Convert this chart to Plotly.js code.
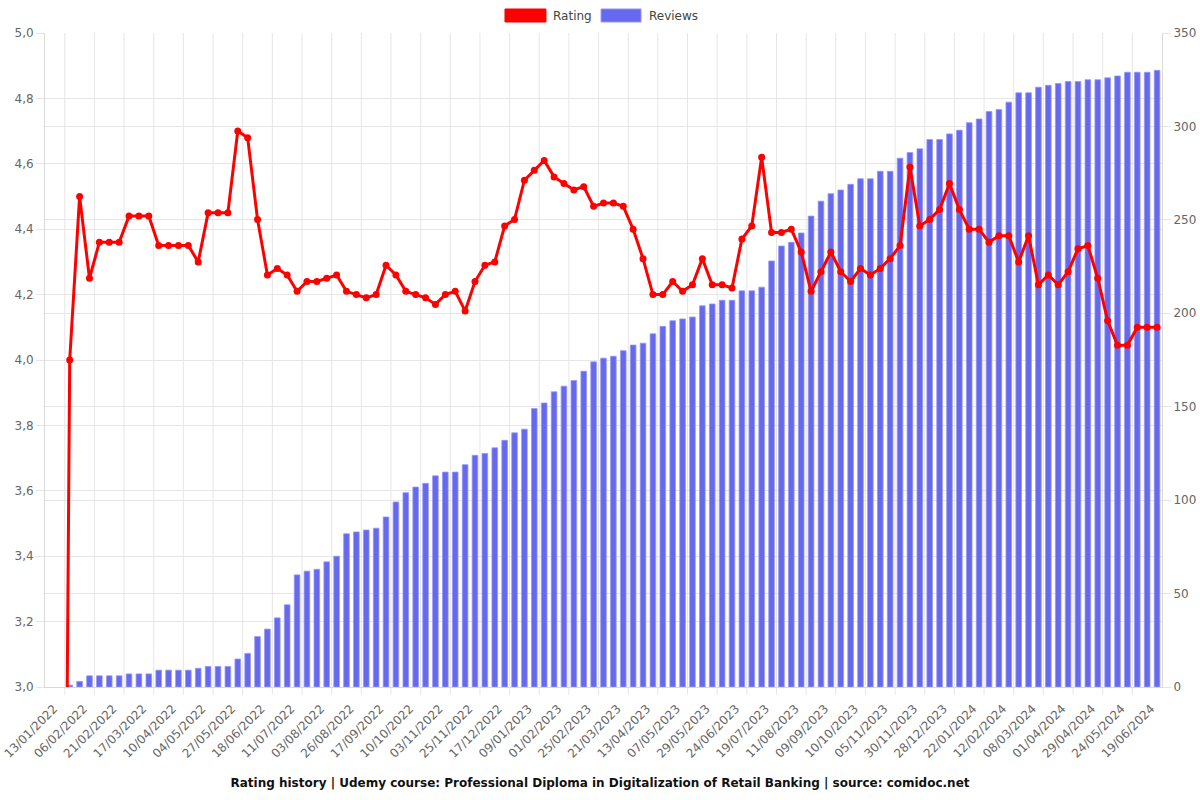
<!DOCTYPE html>
<html>
<head>
<meta charset="utf-8">
<script src="https://cdn.plot.ly/plotly-3.0.1.min.js"></script>
<style>
  html, body { margin: 0; padding: 0; background: #fff; }
  #chart { width: 1200px; height: 800px; }
</style>
</head>
<body>
<div id="chart"></div>
<script>
// Tick labels shown every third category
const tickLabels = ["13/01/2022","06/02/2022","21/02/2022","17/03/2022","10/04/2022","04/05/2022","27/05/2022","18/06/2022","11/07/2022","03/08/2022","26/08/2022","17/09/2022","10/10/2022","03/11/2022","25/11/2022","17/12/2022","09/01/2023","01/02/2023","25/02/2023","21/03/2023","13/04/2023","07/05/2023","29/05/2023","24/06/2023","19/07/2023","11/08/2023","09/09/2023","10/10/2023","05/11/2023","30/11/2023","28/12/2023","22/01/2024","12/02/2024","08/03/2024","01/04/2024","29/04/2024","24/05/2024","19/06/2024"];
const labelStep = 3;

// Average rating per snapshot
const rating = [
  0, 0, 4.0, 4.5, 4.25, 4.36, 4.36, 4.36, 4.44, 4.44,
  4.44, 4.35, 4.35, 4.35, 4.35, 4.30, 4.45, 4.45, 4.45, 4.70,
  4.68, 4.43, 4.26, 4.28, 4.26, 4.21, 4.24, 4.24, 4.25, 4.26,
  4.21, 4.20, 4.19, 4.20, 4.29, 4.26, 4.21, 4.20, 4.19, 4.17,
  4.20, 4.21, 4.15, 4.24, 4.29, 4.30, 4.41, 4.43, 4.55, 4.58,
  4.61, 4.56, 4.54, 4.52, 4.53, 4.47, 4.48, 4.48, 4.47, 4.40,
  4.31, 4.20, 4.20, 4.24, 4.21, 4.23, 4.31, 4.23, 4.23, 4.22,
  4.37, 4.41, 4.62, 4.39, 4.39, 4.40, 4.33, 4.21, 4.27, 4.33,
  4.27, 4.24, 4.28, 4.26, 4.28, 4.31, 4.35, 4.59, 4.41, 4.43,
  4.46, 4.54, 4.46, 4.40, 4.40, 4.36, 4.38, 4.38, 4.30, 4.38,
  4.23, 4.26, 4.23, 4.27, 4.34, 4.35, 4.25, 4.12, 4.045, 4.045,
  4.10, 4.10, 4.10
];

// Cumulative number of reviews per snapshot
const reviews = [
  0, 0, 1, 3, 6, 6, 6, 6, 7, 7,
  7, 9, 9, 9, 9, 10, 11, 11, 11, 15,
  18, 27, 31, 37, 44, 60, 62, 63, 67, 70,
  82, 83, 84, 85, 91, 99, 104, 107, 109, 113,
  115, 115, 119, 124, 125, 128, 132, 136, 138, 149,
  152, 158, 161, 164, 169, 174, 176, 177, 180, 183,
  184, 189, 193, 196, 197, 198, 204, 205, 207, 207,
  212, 212, 214, 228, 236, 238, 243, 252, 260, 264,
  266, 269, 272, 272, 276, 276, 283, 286, 288, 293,
  293, 296, 298, 302, 304, 308, 309, 313, 318, 318,
  321, 322, 323, 324, 324, 325, 325, 326, 327, 329,
  329, 329, 330
];

const idx = reviews.map((_, i) => i);
const tickPos = tickLabels.map((_, k) => k * labelStep);
const n = reviews.length;

const FONT = "DejaVu Sans, Verdana, sans-serif";
const GRID = "#e6e6e6";
const RED = "rgb(255,0,0)";
const BLUE = "rgb(102,104,238)";
const BLUE_EDGE = "rgb(150,152,245)";

// vertical grid lines between shown labels (Chart.js offset grid style)
const shapes = [];
tickPos.slice(1).forEach(p => {
  const g = p - labelStep / 2;
  shapes.push({type: 'line', xref: 'x', yref: 'paper', x0: g, x1: g, y0: 0, y1: 1,
               line: {color: GRID, width: 1}, layer: 'below'});
  shapes.push({type: 'line', xref: 'x', yref: 'paper', x0: g, x1: g, y0: 0, y1: -0.012,
               line: {color: GRID, width: 1}, layer: 'below'});
});
// legend swatches
shapes.push({type: 'rect', xref: 'paper', yref: 'paper', x0: 0.4118, x1: 0.4485, y0: 1.0168, y1: 1.0367,
             fillcolor: RED, line: {color: RED, width: 1}});
shapes.push({type: 'rect', xref: 'paper', yref: 'paper', x0: 0.4978, x1: 0.5336, y0: 1.0168, y1: 1.0367,
             fillcolor: BLUE, line: {color: BLUE_EDGE, width: 1}});

const traces = [
  {
    type: 'bar', name: 'Reviews', x: idx, y: reviews, yaxis: 'y',
    marker: {color: BLUE, line: {color: BLUE_EDGE, width: reviews.map(v => v > 0 ? 0.8 : 0)}},
    hoverinfo: 'skip', showlegend: false
  },
  {
    type: 'scatter', mode: 'lines+markers', name: 'Rating', x: idx, y: rating, yaxis: 'y2',
    line: {color: RED, width: 3},
    marker: {color: RED, size: 7},
    hoverinfo: 'skip', showlegend: false
  }
];

const layout = {
  width: 1200, height: 800,
  margin: {l: 45, r: 38, t: 33, b: 113},
  paper_bgcolor: '#fff', plot_bgcolor: '#fff',
  separators: ', ',
  font: {family: FONT, size: 12, color: '#666'},
  showlegend: false,
  bargap: 0.43,
  title: {
    text: '<b>Rating history | Udemy course: Professional Diploma in Digitalization of Retail Banking | source: comidoc.net</b>',
    font: {family: FONT, size: 12, color: '#111'},
    x: 0.5, xanchor: 'center', y: 0.021, yanchor: 'middle', yref: 'container'
  },
  xaxis: {
    type: 'linear', range: [-0.5, n - 0.5],
    tickmode: 'array', tickvals: tickPos, ticktext: tickLabels,
    tickangle: -45, ticks: 'outside', ticklen: 9, tickcolor: 'rgba(0,0,0,0)',
    ticklabelshift: 4, ticklabeloverflow: 'allow',
    showgrid: false, zeroline: false,
    showline: true, linecolor: '#d9d9d9', linewidth: 1,
    tickfont: {family: FONT, size: 12, color: '#666'}
  },
  yaxis: {
    side: 'right', range: [0, 350], dtick: 50, tick0: 0,
    showgrid: true, gridcolor: GRID, zeroline: false,
    ticks: 'outside', ticklen: 8, tickcolor: GRID,
    showline: true, linecolor: '#d9d9d9',
    tickfont: {family: FONT, size: 12, color: '#666'}
  },
  yaxis2: {
    overlaying: 'y', side: 'left', range: [3, 5], dtick: 0.2, tick0: 3,
    tickformat: '.1f',
    showgrid: true, gridcolor: GRID, zeroline: false,
    ticks: 'outside', ticklen: 8, tickcolor: GRID,
    showline: true, linecolor: '#d9d9d9',
    tickfont: {family: FONT, size: 12, color: '#666'}
  },
  shapes: shapes,
  annotations: [
    {xref: 'paper', yref: 'paper', x: 0.453, y: 1.026, xanchor: 'left', yanchor: 'middle',
     text: 'Rating', showarrow: false, font: {family: FONT, size: 12, color: '#444'}},
    {xref: 'paper', yref: 'paper', x: 0.539, y: 1.026, xanchor: 'left', yanchor: 'middle',
     text: 'Reviews', showarrow: false, font: {family: FONT, size: 12, color: '#444'}}
  ]
};

Plotly.newPlot('chart', traces, layout, {displayModeBar: false, staticPlot: true});
</script>
</body>
</html>
